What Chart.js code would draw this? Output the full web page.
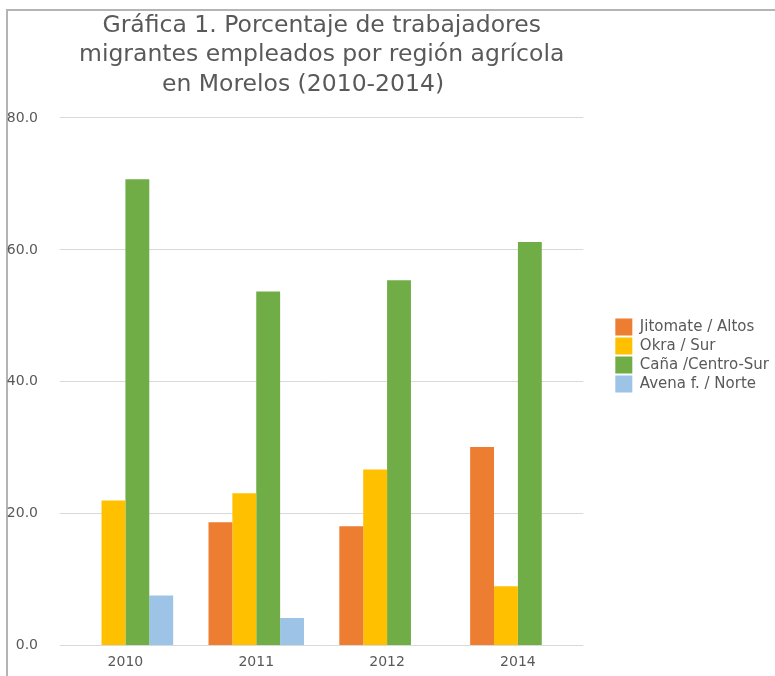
<!DOCTYPE html>
<html>
<head>
<meta charset="utf-8">
<script src="https://cdn.jsdelivr.net/npm/chart.js@4"></script>
<style>
  html, body { margin: 0; padding: 0; background: #ffffff; }
  #wrap { position: relative; width: 775px; height: 676px; overflow: hidden; }
  #frame { position: absolute; left: 6px; top: 9px; width: 800px; height: 700px;
           border-top: 2px solid #b4b4b4; border-left: 2px solid #b4b4b4; }
  #c { position: absolute; left: 0; top: 0; }
</style>
</head>
<body>
<div id="wrap">
  <div id="frame"></div>
  <canvas id="c" width="775" height="676"></canvas>
</div>
<script>
const titleLines = [
  'Gráfica 1. Porcentaje de trabajadores',
  'migrantes empleados por región agrícola',
  'en Morelos (2010-2014)\u00a0\u00a0\u00a0\u00a0\u00a0'
];
const years = ['2010', '2011', '2012', '2014'];
const jitomateAltos = [null, 18.7, 18.1, 30.1];
const okraSur = [22.0, 23.1, 26.7, 9.0];
const canaCentroSur = [70.7, 53.7, 55.4, 61.2];
const avenaNorte = [7.6, 4.2, null, null];
const seriesNames = ['Jitomate / Altos', 'Okra / Sur', 'Caña /Centro-Sur', 'Avena f. / Norte'];
const seriesColors = ['#ED7D31', '#FFC000', '#70AD47', '#9DC3E6'];
const yMin = 0, yMax = 80, yStep = 20;

const FONT = "'DejaVu Sans', sans-serif";
Chart.defaults.font.family = FONT;
Chart.defaults.color = '#595959';

const seriesValues = [jitomateAltos, okraSur, canaCentroSur, avenaNorte];

new Chart(document.getElementById('c'), {
  type: 'bar',
  data: {
    labels: years,
    datasets: seriesNames.map((name, i) => ({
      label: name,
      data: seriesValues[i],
      backgroundColor: seriesColors[i],
      borderWidth: 0,
      barPercentage: 1.0,
      categoryPercentage: 0.73
    }))
  },
  options: {
    responsive: false,
    animation: false,
    devicePixelRatio: 1,
    layout: { padding: { left: 6, right: -4, top: 0, bottom: 0 } },
    plugins: {
      tooltip: { enabled: false },
      title: {
        display: true,
        text: titleLines,
        fullSize: false,
        color: '#595959',
        font: { family: FONT, size: 23.5, weight: 'normal', lineHeight: 1.255 },
        padding: { top: 11, bottom: 18.5 }
      },
      legend: {
        display: true,
        position: 'right',
        align: 'center',
        maxWidth: 300,
        title: { display: true, text: ' ', font: { size: 10 }, padding: { top: 11, bottom: 12 } },
        labels: {
          boxWidth: 17,
          boxHeight: 17,
          padding: 2,
          color: '#595959',
          font: { family: FONT, size: 15 }
        }
      }
    },
    scales: {
      x: {
        grid: { display: false, drawTicks: false },
        border: { display: false },
        ticks: { color: '#595959', font: { family: FONT, size: 14 }, padding: 8.5 },
        afterFit: s => { s.height = 22.5; }
      },
      y: {
        min: yMin,
        max: yMax,
        grid: { color: '#d9d9d9', lineWidth: 1, drawTicks: false },
        border: { display: false },
        ticks: {
          stepSize: yStep,
          color: '#595959',
          font: { family: FONT, size: 14 },
          padding: 22,
          callback: v => Number(v).toFixed(1)
        },
        afterFit: s => { s.width = 54; }
      },
      spacer: {
        position: 'right',
        display: true,
        grid: { display: false, drawTicks: false },
        border: { display: false },
        ticks: { display: false },
        afterFit: s => { s.width = 30; }
      }
    }
  }
});
</script>
</body>
</html>
